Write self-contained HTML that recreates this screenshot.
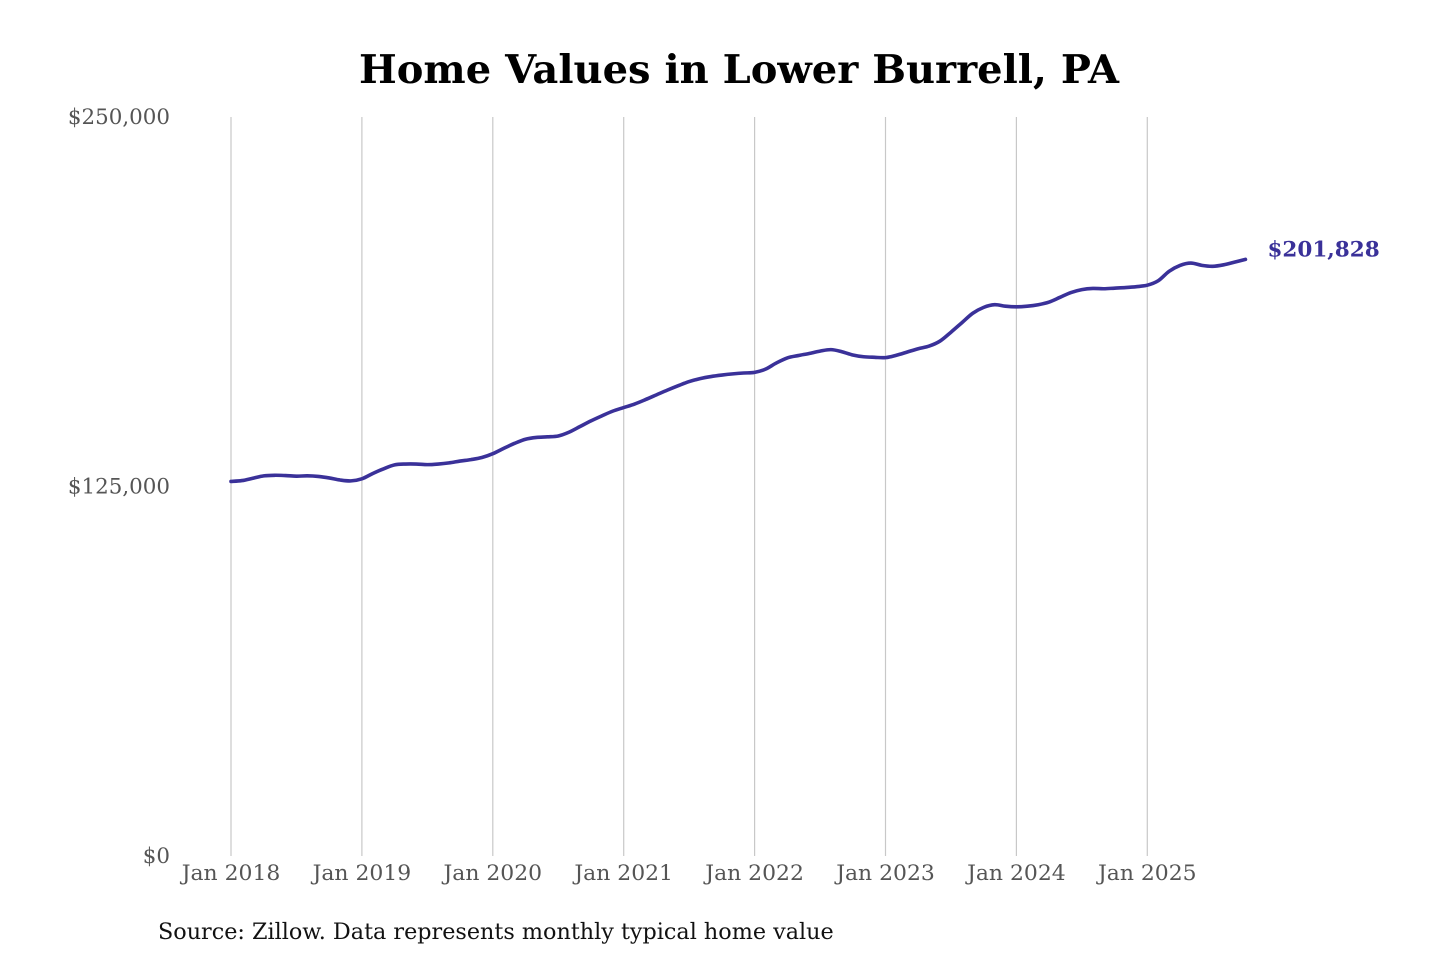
<!DOCTYPE html>
<html><head><meta charset="utf-8"><style>
html,body{margin:0;padding:0;background:#fff;}
svg{display:block;font-family:"DejaVu Serif","Liberation Serif",serif;}
</style></head><body>
<svg id="chart" width="1440" height="960" viewBox="0 0 1440 960">
<text x="739" y="83" text-anchor="middle" font-size="39" font-weight="bold" fill="#000" textLength="760" lengthAdjust="spacingAndGlyphs">Home Values in Lower Burrell, PA</text>
<g id="grid"></g>
<g id="yaxis"></g>
<g id="xaxis"></g>
<g id="series"></g>
<text x="158" y="939" font-size="22.3" fill="#111">Source: Zillow. Data represents monthly typical home value</text>
</svg>
<script>
const yTicks = [0, 125000, 250000];
const yTickLabels = ["$0", "$125,000", "$250,000"];
const xYears = [2018, 2019, 2020, 2021, 2022, 2023, 2024, 2025];
const xTickLabels = ["Jan 2018","Jan 2019","Jan 2020","Jan 2021","Jan 2022","Jan 2023","Jan 2024","Jan 2025"];
const values = [
126.7,127.0,127.8,128.6,128.8,128.7,128.5,128.6,128.4,127.9,127.2,126.9,
127.6,129.4,131.0,132.3,132.6,132.6,132.4,132.6,133.0,133.6,134.1,134.8,
136.1,137.9,139.6,141.0,141.6,141.8,142.1,143.4,145.3,147.2,148.9,150.5,
151.7,152.9,154.4,156.0,157.6,159.1,160.5,161.5,162.2,162.7,163.1,163.4,
163.6,164.7,166.8,168.5,169.3,170.0,170.8,171.3,170.6,169.5,168.9,168.7,
168.6,169.4,170.5,171.6,172.5,174.2,177.2,180.4,183.6,185.6,186.5,186.0,
185.8,186.0,186.5,187.4,189.0,190.6,191.6,192.0,191.9,192.1,192.3,192.6,
193.1,194.6,197.8,199.8,200.6,199.8,199.5,200.0,200.9,201.828
];
const lastLabel = "$201,828";

const NS = "http://www.w3.org/2000/svg";
const x0 = 231, pxPerMonth = 130.9/12;
const yBase = 856, yTop = 117;
const xScale = m => x0 + m * pxPerMonth;
const yScale = v => yBase - (v / 250000) * (yBase - yTop);
function mk(tag, attrs, parent){const e=document.createElementNS(NS,tag);for(const k in attrs)e.setAttribute(k,attrs[k]);parent.appendChild(e);return e;}

const grid=document.getElementById('grid'), ya=document.getElementById('yaxis'), xa=document.getElementById('xaxis'), ser=document.getElementById('series');
xYears.forEach((yr,i)=>{
  const x=xScale((yr-2018)*12);
  const l=mk('line',{x1:x,x2:x,y1:yTop,y2:yBase,stroke:'#c8c8c8','stroke-width':1.2},grid);
  
  
  const t=mk('text',{x:x,y:880,'text-anchor':'middle','font-size':21.9,fill:'#555'},xa);
  t.textContent=xTickLabels[i];
  
  
});
yTicks.forEach((v,i)=>{
  const t=mk('text',{x:170,y:yScale(v)+7,'text-anchor':'end','font-size':21.4,fill:'#555'},ya);
  t.textContent=yTickLabels[i];
  
  
});
const pts=values.map((v,i)=>[xScale(i),yScale(v*1000)]);
let d='M'+pts[0][0]+','+pts[0][1];
for(let i=0;i<pts.length-1;i++){
  const p0=pts[Math.max(i-1,0)],p1=pts[i],p2=pts[i+1],p3=pts[Math.min(i+2,pts.length-1)];
  const c1=[p1[0]+(p2[0]-p0[0])/6,p1[1]+(p2[1]-p0[1])/6];
  const c2=[p2[0]-(p3[0]-p1[0])/6,p2[1]-(p3[1]-p1[1])/6];
  d+=' C'+c1+' '+c2+' '+p2;
}
const path=mk('path',{d:d,fill:'none',stroke:'#3a3199','stroke-width':3.6,'stroke-linejoin':'round','stroke-linecap':'round'},ser);


const last=pts[pts.length-1];
const lbl=mk('text',{x:last[0]+22,y:last[1]-3,'font-size':21.5,'font-weight':'bold',fill:'#3a3199'},ser);
lbl.textContent=lastLabel;


</script>
</body></html>
